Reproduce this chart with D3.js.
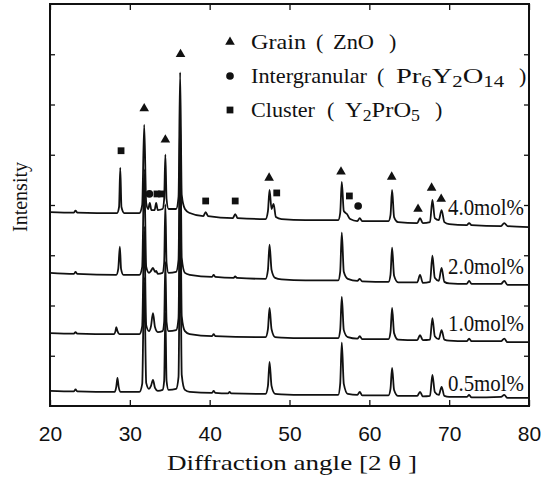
<!DOCTYPE html>
<html><head><meta charset="utf-8">
<script src="https://cdn.jsdelivr.net/npm/d3@7"></script>
<style>body{margin:0;background:#fff}svg{display:block}</style>
</head><body>
<svg id="c" width="547" height="478"></svg>
<script>
// ---- data ----
const xTicks = [20, 30, 40, 50, 60, 70, 80];
const yTicks = [100, 200, 300, 400, 500, 600, 700];
const seriesNames = ["0.5mol%", "1.0mol%", "2.0mol%", "4.0mol%"];
const offsets = [16, 127, 241, 356];

const s05 = [[20,14],[23.0,13],[23.2,17],[23.4,13],
[28.1,12],[28.3,22],[28.45,40],[28.6,22],[28.85,12],
[31.2,12],[31.55,28],[31.8,240],[32.05,30],[32.4,18],[32.65,24],[32.9,36],[33.15,20],[33.5,14],
[34.1,16],[34.3,34],[34.45,170],[34.6,34],[34.85,16],
[35.8,18],[36.1,42],[36.3,350],[36.5,46],[36.9,16],[37.5,12],
[40.3,10],[40.5,14],[40.7,10],
[42.3,9],[42.5,12],[42.7,9],
[47.0,8],[47.3,24],[47.5,72],[47.75,24],[48.2,8],[49,7],
[52,6],[56.1,6],[56.35,28],[56.55,110],[56.8,28],[57.3,8],[58.5,6],[58.8,12],[59.1,5],
[62.4,5],[62.65,18],[62.85,60],[63.1,16],[63.6,4],
[66.0,4],[66.35,12],[66.7,3],
[67.6,4],[67.9,46],[68.2,12],[68.7,6],[69.05,22],[69.4,4],[70,2],
[72.2,2],[72.5,6],[72.8,1],
[76.5,2],[76.9,6],[77.3,0],[80,0]];

const s10 = [[20,18],[23.0,17],[23.2,20],[23.4,17],
[28.0,16],[28.2,22],[28.3,30],[28.45,22],[28.7,16],
[31.2,16],[31.55,32],[31.8,230],[32.05,34],[32.4,22],[32.65,32],[32.9,58],[33.15,30],[33.5,20],
[34.1,22],[34.3,40],[34.45,160],[34.6,40],[34.85,22],
[35.8,24],[36.1,48],[36.3,340],[36.5,52],[36.9,22],[37.5,16],
[40.3,12],[40.5,16],[40.7,12],
[47.0,10],[47.3,26],[47.5,68],[47.75,26],[48.2,10],[49,9],
[52,8],[56.1,8],[56.35,24],[56.55,90],[56.8,24],[57.3,10],[58.5,7],[58.8,12],[59.1,6],
[62.4,6],[62.65,20],[62.85,68],[63.1,18],[63.6,5],
[66.0,4],[66.35,14],[66.7,4],
[67.6,5],[67.9,48],[68.2,12],[68.7,6],[69.05,24],[69.4,5],[70,3],
[72.2,2],[72.5,7],[72.8,2],
[76.5,2],[76.9,7],[77.3,0],[80,0]];

const s20 = [[20,24],[23.0,22],[23.2,26],[23.4,22],
[28.3,20],[28.55,32],[28.75,76],[28.9,32],[29.2,20],
[31.2,20],[31.55,36],[31.8,230],[32.05,36],[32.4,24],[32.65,28],[32.9,34],[33.15,26],[33.3,28],[33.5,22],
[34.1,24],[34.3,44],[34.45,160],[34.6,44],[34.85,24],
[35.8,26],[36.1,50],[36.3,340],[36.5,54],[36.9,24],[37.5,20],
[40.3,16],[40.5,20],[40.7,16],
[43.0,14],[43.2,17],[43.4,14],
[47.0,12],[47.3,30],[47.5,80],[47.75,30],[48.2,14],[49,11],
[52,9],[56.1,9],[56.35,26],[56.55,104],[56.8,26],[57.3,12],[58.5,8],[58.8,12],[59.1,7],
[62.4,6],[62.65,20],[62.85,74],[63.1,18],[63.6,5],
[66.0,5],[66.35,20],[66.7,4],
[67.6,6],[67.9,58],[68.2,14],[68.7,8],[69.05,34],[69.4,6],[70,3],
[72.2,2],[72.5,8],[72.8,2],
[76.5,2],[76.9,8],[77.3,0],[80,0]];

const s40 = [[20,30],[23.0,29],[23.2,33],[23.4,29],
[28.4,28],[28.65,40],[28.8,118],[28.95,40],[29.3,28],
[31.2,28],[31.55,44],[31.8,204],[32.05,48],[32.3,36],[32.5,48],[32.7,34],[33.1,34],[33.3,48],[33.5,34],
[34.1,36],[34.3,56],[34.45,144],[34.6,56],[34.85,36],
[35.8,36],[36.1,60],[36.3,308],[36.5,64],[36.9,36],[37.5,28],
[39.2,22],[39.5,30],[39.8,22],
[42.9,18],[43.2,26],[43.5,18],
[47.0,16],[47.3,32],[47.5,74],[47.75,36],[48.0,46],[48.3,20],[49,16],
[52,14],[56.1,14],[56.35,28],[56.55,90],[56.8,32],[57.2,26],[57.6,16],[58.5,12],[58.8,18],[59.1,12],
[62.4,12],[62.65,24],[62.85,74],[63.1,20],[63.6,10],
[66.0,8],[66.35,18],[66.7,8],
[67.6,10],[67.9,54],[68.2,18],[68.7,14],[69.05,34],[69.4,10],[70,6],
[72.2,4],[72.5,8],[72.8,4],
[76.5,2],[76.9,8],[77.3,2],[80,0]];

const triangleAngles = [31.8, 34.45, 36.35, 47.45, 56.45, 62.8, 66.1, 67.8, 69.0];
const triangleValues = [592, 530, 700, 454, 466, 456, 392, 434, 412];
const squareAngles = [28.9, 33.4, 33.95, 39.5, 43.2, 48.4, 57.5];
const squareValues = [508, 422, 422, 408, 408, 424, 418];
const circleAngles = [32.45, 58.6];
const circleValues = [422, 398];

const legendNames = ["Grain", "Intergranular", "Cluster"];

// ---- drawing ----
const svg = d3.select("#c");
const serif = "'Liberation Serif','Times New Roman',serif";
const sans = "'Liberation Sans',Arial,sans-serif";
const x = d3.scaleLinear().domain([20, 80]).range([50, 529]);
const y = d3.scaleLinear().domain([0, 800]).range([406, 4]);

const allSeries = [s05, s10, s20, s40];
const line = d3.line().x(d => x(d[0])).y(d => y(d[1])).curve(d3.curveMonotoneX);

allSeries.forEach((s, i) => {
  svg.append("path")
    .attr("d", line(s.map(p => [p[0], p[1] + offsets[i]])))
    .attr("fill", "none").attr("stroke", "#111").attr("stroke-width", 1.8)
    .attr("stroke-linejoin", "round");
});

// axes
const gB = svg.append("g").attr("transform", `translate(0,${y(0)})`)
  .call(d3.axisBottom(x).tickValues(xTicks).tickSizeInner(-6).tickSizeOuter(0).tickPadding(20));
gB.selectAll("text").attr("font-family", sans).attr("font-size", 21).attr("fill", "#111");
const gT = svg.append("g").attr("transform", `translate(0,${y(800)})`)
  .call(d3.axisTop(x).tickValues(xTicks).tickSizeInner(-6).tickSizeOuter(0).tickFormat(""));
const gL = svg.append("g").attr("transform", `translate(${x(20)},0)`)
  .call(d3.axisLeft(y).tickValues(yTicks).tickSizeInner(-5).tickSizeOuter(0).tickFormat(""));
const gR = svg.append("g").attr("transform", `translate(${x(80)},0)`)
  .call(d3.axisRight(y).tickValues(yTicks).tickSizeInner(-5).tickSizeOuter(0).tickFormat(""));
[gB, gT, gL, gR].forEach(g => {
  g.select(".domain").remove();
  g.selectAll("line").attr("stroke", "#111").attr("stroke-width", 1.3);
});
svg.append("rect").attr("x", x(20)).attr("y", y(800))
  .attr("width", x(80) - x(20)).attr("height", y(0) - y(800))
  .attr("fill", "none").attr("stroke", "#111").attr("stroke-width", 2);

// markers
function marks(type, xs, vs, size) {
  svg.append("g").selectAll("path").data(xs).join("path")
    .attr("d", d3.symbol().type(type).size(size))
    .attr("transform", (d, i) => `translate(${x(d)},${y(vs[i])})`)
    .attr("fill", "#111");
}
marks(d3.symbolTriangle, triangleAngles, triangleValues, 40);
marks(d3.symbolSquare, squareAngles, squareValues, 46);
marks(d3.symbolCircle, circleAngles, circleValues, 46);

// mol% labels
const labelY = [391, 331, 274, 215];
seriesNames.forEach((n, i) => {
  svg.append("text").attr("x", 448).attr("y", labelY[i])
    .attr("font-family", serif).attr("font-size", 23).attr("fill", "#111")
    .attr("textLength", 76).attr("lengthAdjust", "spacingAndGlyphs")
    .text(n);
});

// legend
const lgX = 230, lgY = [42, 76, 110];
const legendSyms = [d3.symbolTriangle, d3.symbolCircle, d3.symbolSquare];
legendSyms.forEach((s, i) => {
  svg.append("path").attr("d", d3.symbol().type(s).size(i === 0 ? 40 : 46))
    .attr("transform", `translate(${lgX},${lgY[i]})`).attr("fill", "#111");
});
function txt(xp, yp, str, len) {
  const t = svg.append("text").attr("x", xp).attr("y", yp)
    .attr("font-family", serif).attr("font-size", 22).attr("fill", "#111").text(str);
  if (len) t.attr("textLength", len).attr("lengthAdjust", "spacingAndGlyphs");
  return t;
}
function formula(xp, yp, parts, len) {
  const t = svg.append("text").attr("x", xp).attr("y", yp)
    .attr("font-family", serif).attr("font-size", 22).attr("fill", "#111")
    .attr("textLength", len).attr("lengthAdjust", "spacingAndGlyphs");
  let sub = false;
  parts.forEach(p => {
    const isSub = /^[0-9]+$/.test(p);
    const ts = t.append("tspan").text(p);
    if (isSub) { ts.attr("font-size", 16); if (!sub) ts.attr("dy", 4); sub = true; }
    else { if (sub) ts.attr("dy", -4); sub = false; }
  });
}
const wordLen = [55, 116, 64];
const legParen = [[316, 389], [377, 519], [327, 435]];
const legForm = [[333, ["ZnO"], 41], [396, ["Pr", "6", "Y", "2", "O", "14"], 108], [345, ["Y", "2", "PrO", "5"], 75]];
legendNames.forEach((n, i) => {
  const by = lgY[i] + 7;
  txt(251, by, n, wordLen[i]);
  txt(legParen[i][0], by, "(");
  txt(legParen[i][1], by, ")");
  formula(legForm[i][0], by, legForm[i][1], legForm[i][2]);
});

// axis titles
svg.append("text").attr("x", 292).attr("y", 470).attr("text-anchor", "middle")
  .attr("font-family", serif).attr("font-size", 21).attr("fill", "#111")
  .attr("textLength", 250).attr("lengthAdjust", "spacingAndGlyphs")
  .text("Diffraction  angle  [2 θ ]");
svg.append("text").attr("transform", "translate(27,197) rotate(-90)")
  .attr("text-anchor", "middle").attr("font-family", serif).attr("font-size", 20)
  .attr("fill", "#111").text("Intensity");
</script>
</body></html>
